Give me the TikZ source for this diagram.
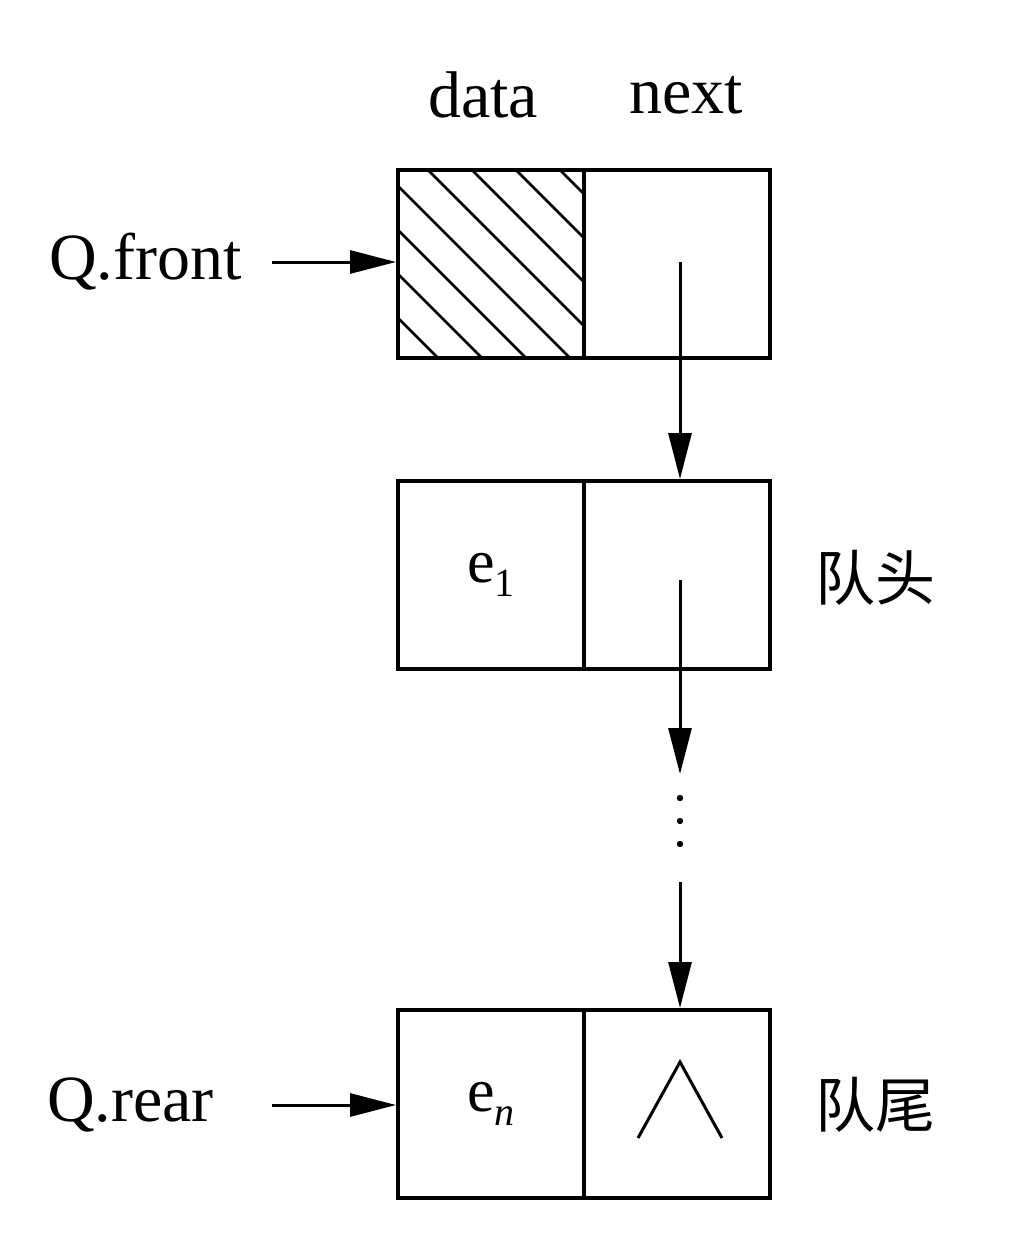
\documentclass[tikz,border=0pt]{standalone}
\usepackage{fontspec}
\setmainfont{Liberation Serif}
\newfontfamily\cjk{Noto Sans CJK SC}
\usetikzlibrary{arrows.meta}
\newcommand{\subtxt}[1]{\raisebox{-0.22em}{\fontsize{40}{40}\selectfont #1}}
\begin{document}
\begin{tikzpicture}[x=1pt,y=-1pt,
  cell/.style={draw,line width=4pt,minimum width=186pt,minimum height=188pt,inner sep=0pt,font=\fontsize{62}{70}\selectfont},
  lbl/.style={inner sep=0pt,font=\fontsize{66}{78}\selectfont},
  clbl/.style={inner sep=0pt,font=\cjk\fontsize{60}{70}\selectfont},
  arr/.style={line width=3pt,-{Triangle[length=46pt,width=23pt]}},
  hatchline/.style={line width=2.6pt}]
\useasboundingbox (0,0) rectangle (1024,1252);
% hatch of the head cell
\begin{scope}
  \clip (398,170) rectangle (584,358);
  \foreach \c in {-80,-124,-168,-212,-258,-302,-346,-390}
    \draw[hatchline] (300,300+\c) -- (700,700+\c);
\end{scope}
% box 1
\node[cell] (d1) at (491,264) {};
\node[cell] (n1) at (677,264) {};
% box 2
\node[cell] (d2) at (491,575) {e\subtxt{1}};
\node[cell] (n2) at (677,575) {};
% box 3
\node[cell] (d3) at (491,1104) {e\subtxt{\itshape n}};
\node[cell] (n3) at (677,1104) {};
\draw[line width=3pt] (638,1138) -- (680,1062) -- (722,1138);
% labels
\node[lbl] (data) at (483,95) {data};
\node[lbl] (next) at (686,95) {next};
\node[lbl,anchor=east] (qf) at (242,262) {Q.front};
\node[lbl,anchor=east] (qr) at (214,1105) {Q.rear};
\node[clbl,anchor=west] (head) at (815,578) {队头};
\node[clbl,anchor=west] (tail) at (815,1105) {队尾};
% pointer arrows
\coordinate (p1) at (680,262);
\coordinate (p2) at (680,580);
\coordinate (p2e) at (680,774);
\coordinate (p3) at (680,882);
\coordinate (qfs) at (272,262);
\coordinate (qrs) at (272,1105);
\draw[arr] (p1) -- (p1 |- n2.north);
\draw[arr] (p2) -- (p2e);
\draw[arr] (p3) -- (p3 |- n3.north);
\foreach \y in {798,821,844} \fill (680,\y) circle (3.2pt);
\draw[arr] (qfs) -- (qfs -| d1.west);
\draw[arr] (qrs) -- (qrs -| d3.west);
\end{tikzpicture}
\end{document}
